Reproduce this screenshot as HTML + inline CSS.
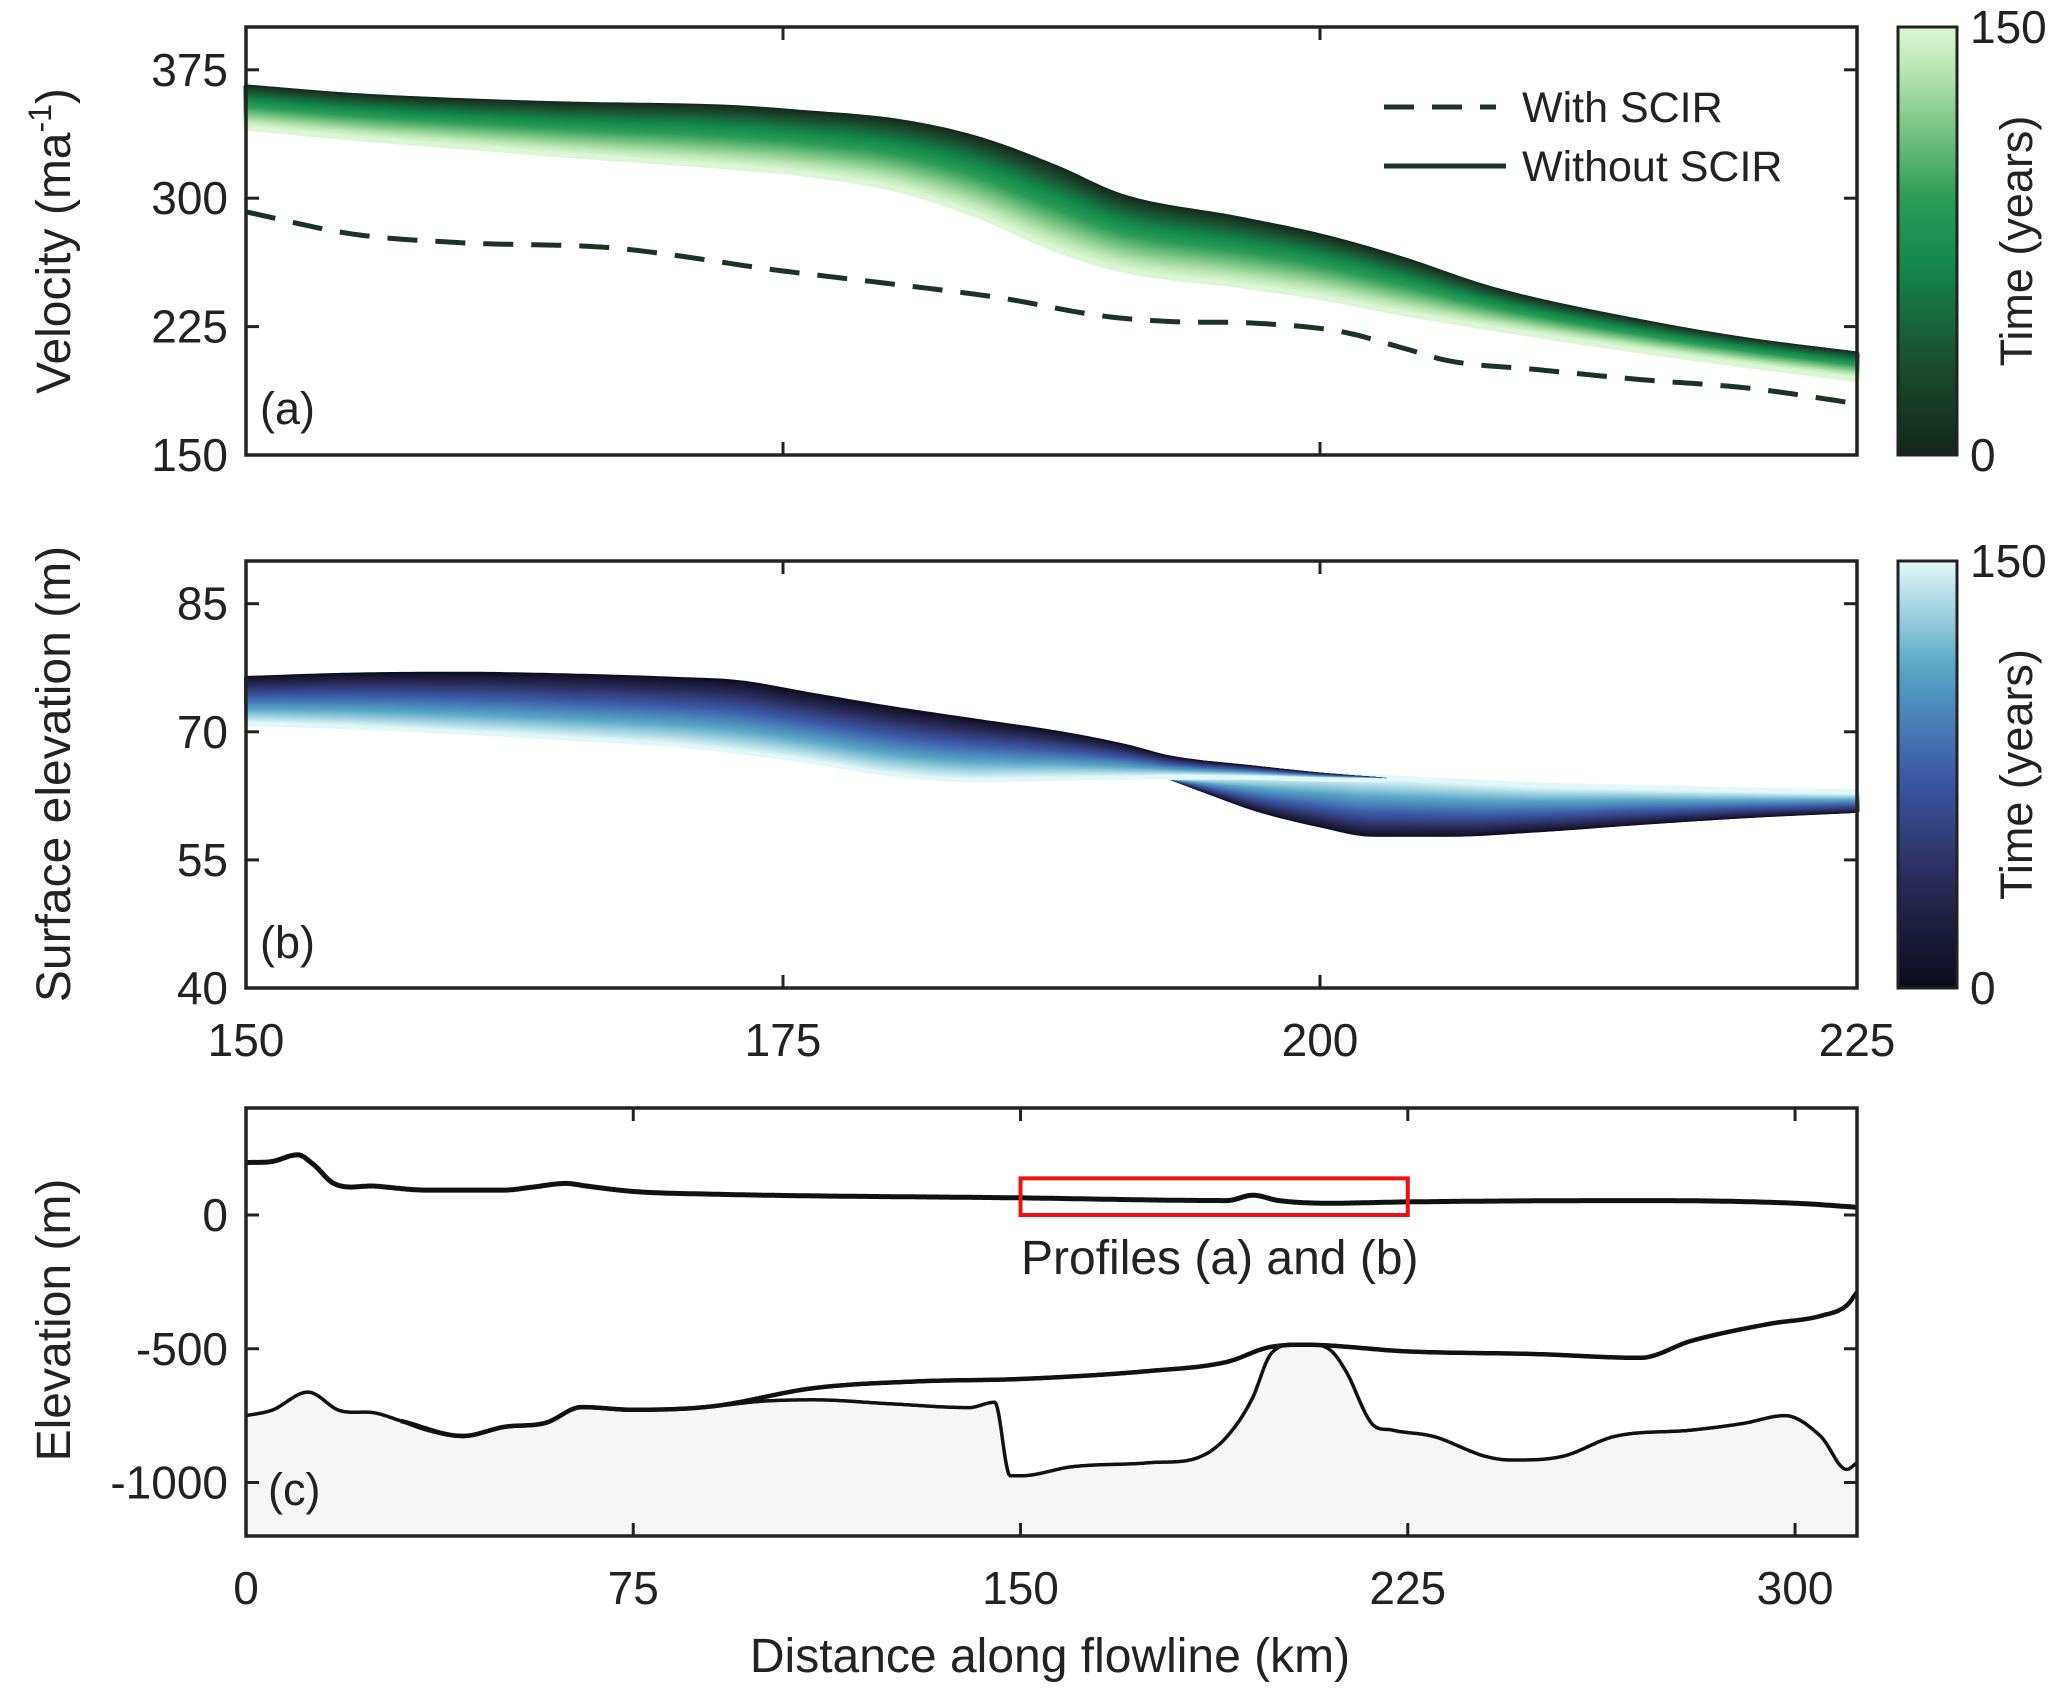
<!DOCTYPE html>
<html><head><meta charset="utf-8">
<style>
html,body{margin:0;padding:0;background:#fff;}
svg{display:block;font-family:"Liberation Sans",sans-serif;}
</style></head>
<body>
<svg id="fig" width="2067" height="1698" viewBox="0 0 2067 1698" xmlns="http://www.w3.org/2000/svg">
<defs>
<linearGradient id="gGreen" x1="0" y1="1" x2="0" y2="0">
<stop offset="0" stop-color="#132619"/><stop offset="0.2" stop-color="#1b4a2f"/><stop offset="0.45" stop-color="#138a4c"/><stop offset="0.6" stop-color="#2c9c58"/><stop offset="0.78" stop-color="#82c888"/><stop offset="0.9" stop-color="#b9e6b3"/><stop offset="1" stop-color="#dbf6d4"/>
</linearGradient>
<linearGradient id="gBlue" x1="0" y1="1" x2="0" y2="0">
<stop offset="0" stop-color="#0c0b1c"/><stop offset="0.25" stop-color="#2a2a58"/><stop offset="0.5" stop-color="#3c5aa8"/><stop offset="0.75" stop-color="#57a6c6"/><stop offset="1" stop-color="#e2f8f8"/>
</linearGradient>
</defs>
</svg>
<script>
// ---------- data ----------
const kmA = [150,155,160,165,172.6,176,180.3,184,187.7,190.8,196.2,200,203.7,208,215.3,220,225];
const velT0 = [365,360,357,355,353,350,345,335,318,301,288,278,265,247,227,217,209];
const velT150 = [341,335,330,325,318,314,305,290,270,258,249,242,233,224,210,202,194];
const kmDash = [150,155,160,167,175,180,185,190,193,197,201,204,206,210,215,220,225];
const velDash = [292,279,274,271,257.5,250,242,231,228,227,222,212,205,200,194,189,180];

// upper (grounded-side) band of surface elevation profiles
const kmBL = [150,155,160,165,170,173,176,180,184,188,191,193,197,200,203];
const elevTopL = [76.3,76.7,76.8,76.6,76.2,75.8,74.5,72.8,71.3,69.8,68.3,67.0,65.8,65.0,64.4];
const elevBotL = [70.9,70.5,69.9,69.2,68.4,67.6,66.6,65.0,64.3,64.5,64.6,64.7,64.6,64.4,64.3];
// dip (floating) band: dark bottom, light top
const kmBR = [193,195,197,200,202.5,206,210,215,220,225];
const elevDipBot = [64.7,62.8,61.0,59.1,58.0,58.0,58.5,59.4,60.2,60.8];
const elevDipTop = [64.7,64.8,64.9,64.9,64.7,64.3,63.8,63.5,63.2,63.0];

const kmSurf = [0,5,10,13,17,25,35,50,55,62,66,75,90,150,190,195,200,210,225,270,300,312];
const surfElev = [196,200,225,190,118,108,93,93,103,118,108,88,78,64,54,74,54,44,49,54,44,29];
const kmBed = [0,5,12,18,25,30,35,42,50,58,65,75,90,100,110,125,140,145,148,150,160,175,185,190,195,198,200,205,210,213,218,222,230,240,245,255,265,280,290,298,305,310,312];
const bedElev = [-750,-730,-662,-730,-740,-770,-804,-828,-794,-779,-720,-730,-716,-696,-691,-706,-720,-700,-975,-975,-941,-926,-902,-828,-681,-534,-495,-485,-505,-583,-779,-804,-828,-902,-916,-902,-828,-804,-779,-750,-828,-951,-926];
const kmBase = [30,42,50,58,65,75,90,110,130,150,175,190,198,205,225,250,270,280,295,305,310,312];
const baseElev = [-770,-826,-792,-777,-718,-728,-716,-647,-622,-613,-583,-549,-495,-485,-510,-520,-534,-470,-407,-377,-338,-289];

const ticksA = [150,225,300,375];
const ticksB = [40,55,70,85];
const ticksX1 = [150,175,200,225];
const ticksC = [-1000,-500,0];
const ticksXC = [0,75,150,225,300];
const boxKm = [150,225];
const boxElev = [0,137];

// ---------- helpers ----------
const NS='http://www.w3.org/2000/svg';
const svg=document.getElementById('fig');
function mk(tag,attrs,parent){const e=document.createElementNS(NS,tag);for(const k in attrs)e.setAttribute(k,attrs[k]);(parent||svg).appendChild(e);return e;}
function slopes(xs,ys){const n=xs.length,m=[];for(let i=0;i<n;i++){if(i===0)m.push((ys[1]-ys[0])/(xs[1]-xs[0]));else if(i===n-1)m.push((ys[n-1]-ys[n-2])/(xs[n-1]-xs[n-2]));else{const a=(ys[i]-ys[i-1])/(xs[i]-xs[i-1]),b=(ys[i+1]-ys[i])/(xs[i+1]-xs[i]);m.push(a*b<=0?0:(a+b)/2);}}return m;}
function smooth(xs,ys,x){if(x<=xs[0])return ys[0];const m=slopes(xs,ys);for(let i=1;i<xs.length;i++){if(x<=xs[i]){const h=xs[i]-xs[i-1],t=(x-xs[i-1])/h;const t2=t*t,t3=t2*t;return (2*t3-3*t2+1)*ys[i-1]+(t3-2*t2+t)*h*m[i-1]+(-2*t3+3*t2)*ys[i]+(t3-t2)*h*m[i];}}return ys[ys.length-1];}
function lerpCol(stops,t){for(let i=1;i<stops.length;i++){if(t<=stops[i][0]){const f=(t-stops[i-1][0])/(stops[i][0]-stops[i-1][0]);const a=stops[i-1][1],b=stops[i][1];return 'rgb('+[0,1,2].map(k=>Math.round(a[k]+f*(b[k]-a[k]))).join(',')+')';}}const c=stops[stops.length-1][1];return 'rgb('+c.join(',')+')';}
const greenStops=[[0,[19,38,25]],[0.2,[27,74,47]],[0.45,[19,138,76]],[0.6,[44,156,88]],[0.78,[130,200,136]],[0.9,[185,230,179]],[1,[219,246,212]]];
const blueStops=[[0,[12,11,28]],[0.25,[42,42,88]],[0.5,[60,90,168]],[0.75,[87,166,198]],[1,[226,248,248]]];

const L=246,R=1857;
const axA={top:27,bot:455,ymin:150,ymax:400,xmin:150,xmax:225};
const axB={top:561,bot:988,ymin:40,ymax:90,xmin:150,xmax:225};
const axC={top:1108,bot:1536,ymin:-1200,ymax:400,xmin:0,xmax:312};
function sx(ax,v){return L+(v-ax.xmin)/(ax.xmax-ax.xmin)*(R-L);}
function sy(ax,v){return ax.bot-(v-ax.ymin)/(ax.ymax-ax.ymin)*(ax.bot-ax.top);}
function pathFrom(ax,xs,ys){return xs.map((x,i)=>(i?'L':'M')+sx(ax,x).toFixed(1)+','+sy(ax,ys[i]).toFixed(1)).join(' ');}
function denseX(a,b,step){const r=[];for(let x=a;x<=b+1e-9;x+=step)r.push(x);return r;}
function smoothPath(ax,xs,ys){const d=denseX(xs[0],xs[xs.length-1],0.25);return pathFrom(ax,d,d.map(x=>smooth(xs,ys,x)));}

function bands(ax,xs,y0,y1,stops,name,g,pw,sw){
  const N=70;const d=denseX(xs[0],xs[xs.length-1],0.25);
  const a=d.map(x=>smooth(xs,y0,x)),b=d.map(x=>smooth(xs,y1,x));
  for(let n=0;n<=N;n++){
    const s=n/N;const f=Math.pow(s,pw||1);
    const ys=d.map((x,i)=>a[i]+f*(b[i]-a[i]));
    const p=mk('path',{d:pathFrom(ax,d,ys),fill:'none',stroke:lerpCol(stops,s),'stroke-width':sw||5,'stroke-linejoin':'round','stroke-linecap':'round'},g);
    
    
  }
}

function frame(ax,name,yt,xt,xlabels){
  const g=mk('g',{});
  
  
  mk('rect',{x:L,y:ax.top,width:R-L,height:ax.bot-ax.top,fill:'none',stroke:'#222','stroke-width':3.5},g);
  yt.forEach(v=>{const y=sy(ax,v);
    mk('line',{x1:L,y1:y,x2:L+13,y2:y,stroke:'#222','stroke-width':3},g);
    mk('line',{x1:R,y1:y,x2:R-13,y2:y,stroke:'#222','stroke-width':3},g);
    const t=mk('text',{x:L-18,y:y+16,'text-anchor':'end','font-size':46,fill:'#222'},g);t.textContent=(v<0?'-'+Math.abs(v):v);
    
    
  });
  xt.forEach(v=>{const x=sx(ax,v);
    mk('line',{x1:x,y1:ax.bot,x2:x,y2:ax.bot-13,stroke:'#222','stroke-width':3},g);
    mk('line',{x1:x,y1:ax.top,x2:x,y2:ax.top+13,stroke:'#222','stroke-width':3},g);
    if(xlabels){const t=mk('text',{x:x,y:ax.bot+68,'text-anchor':'middle','font-size':46,fill:'#222'},g);t.textContent=v;
      
      }
  });
}
function txt(str,x,y,size,name,extra){const t=mk('text',Object.assign({x:x,y:y,'font-size':size,fill:'#222'},extra||{}));t.textContent=str;return t;}

// ---------- panel a ----------
const gA=mk('g',{});
bands(axA,kmA,velT0,velT150,greenStops,'velocity',gA,1.25);
const dash=mk('path',{d:smoothPath(axA,kmDash,velDash),fill:'none',stroke:'#1a3323','stroke-width':5,'stroke-dasharray':'30,18'});

frame(axA,'panel-a',ticksA,ticksX1,false);
const lg=mk('g',{});
mk('line',{x1:1384,y1:107,x2:1496,y2:107,stroke:'#1a3323','stroke-width':5,'stroke-dasharray':'30,18'},lg);
mk('line',{x1:1384,y1:166,x2:1506,y2:166,stroke:'#1a3323','stroke-width':5},lg);
txt('With SCIR',1522,122,43,'legend-entry-with-scir');
txt('Without SCIR',1522,181,43,'legend-entry-without-scir');
txt('(a)',260,424,45,'panel-a-label');
const yla=txt('',0,0,48,'velocity-y-axis-title',{transform:'translate(70,241) rotate(-90)','text-anchor':'middle'});
yla.innerHTML='Velocity (ma<tspan dy="-19" font-size="32">-1</tspan><tspan dy="19">)</tspan>';

// ---------- panel b ----------
const gB=mk('g',{});
bands(axB,kmBR,elevDipBot,elevDipTop,blueStops,'elevation-dip',gB,1.3);
bands(axB,kmBL,elevTopL,elevBotL,blueStops,'elevation',gB,1.2,4);
frame(axB,'panel-b',ticksB,ticksX1,true);
txt('(b)',260,958,45,'panel-b-label');
txt('Surface elevation (m)',0,0,48,'surface-elevation-y-axis-title',{transform:'translate(70,774) rotate(-90)','text-anchor':'middle'});

// ---------- colorbars ----------
[[axA,'url(#gGreen)','velocity-colorbar'],[axB,'url(#gBlue)','elevation-colorbar']].forEach(([ax,fill,name])=>{
  const r=mk('rect',{x:1898,y:ax.top,width:59,height:ax.bot-ax.top,fill:fill,stroke:'#222','stroke-width':3});
  
  txt('150',1970,ax.top+16,46,name+'-max-label');
  txt('0',1970,ax.bot+16,46,name+'-min-label');
  txt('Time (years)',0,0,45,name+'-title',{transform:'translate(2032,'+((ax.top+ax.bot)/2)+') rotate(-90)','text-anchor':'middle'});
});

// ---------- panel c ----------
const bedPath=smoothPath(axC,kmBed,bedElev);
const fp=mk('path',{d:bedPath+' L'+R+','+axC.bot+' L'+L+','+axC.bot+' Z',fill:'#f6f6f6',stroke:'none'});
const bp=mk('path',{d:bedPath,fill:'none',stroke:'#111','stroke-width':3.5});
const ib=mk('path',{d:smoothPath(axC,kmBase,baseElev),fill:'none',stroke:'#111','stroke-width':4.5});
const sp=mk('path',{d:smoothPath(axC,kmSurf,surfElev),fill:'none',stroke:'#111','stroke-width':5});
const rb=mk('rect',{x:sx(axC,boxKm[0]),y:sy(axC,boxElev[1]),width:sx(axC,boxKm[1])-sx(axC,boxKm[0]),height:sy(axC,boxElev[0])-sy(axC,boxElev[1]),fill:'none',stroke:'#f01010','stroke-width':4});

txt('Profiles (a) and (b)',1021,1274,48,'profile-region-label');
frame(axC,'panel-c',ticksC,ticksXC,true);
txt('(c)',268,1505,45,'panel-c-label');
txt('Elevation (m)',0,0,48,'elevation-y-axis-title',{transform:'translate(70,1320) rotate(-90)','text-anchor':'middle'});
txt('Distance along flowline (km)',1050,1672,48,'x-axis-title',{'text-anchor':'middle'});
</script>
</body></html>
